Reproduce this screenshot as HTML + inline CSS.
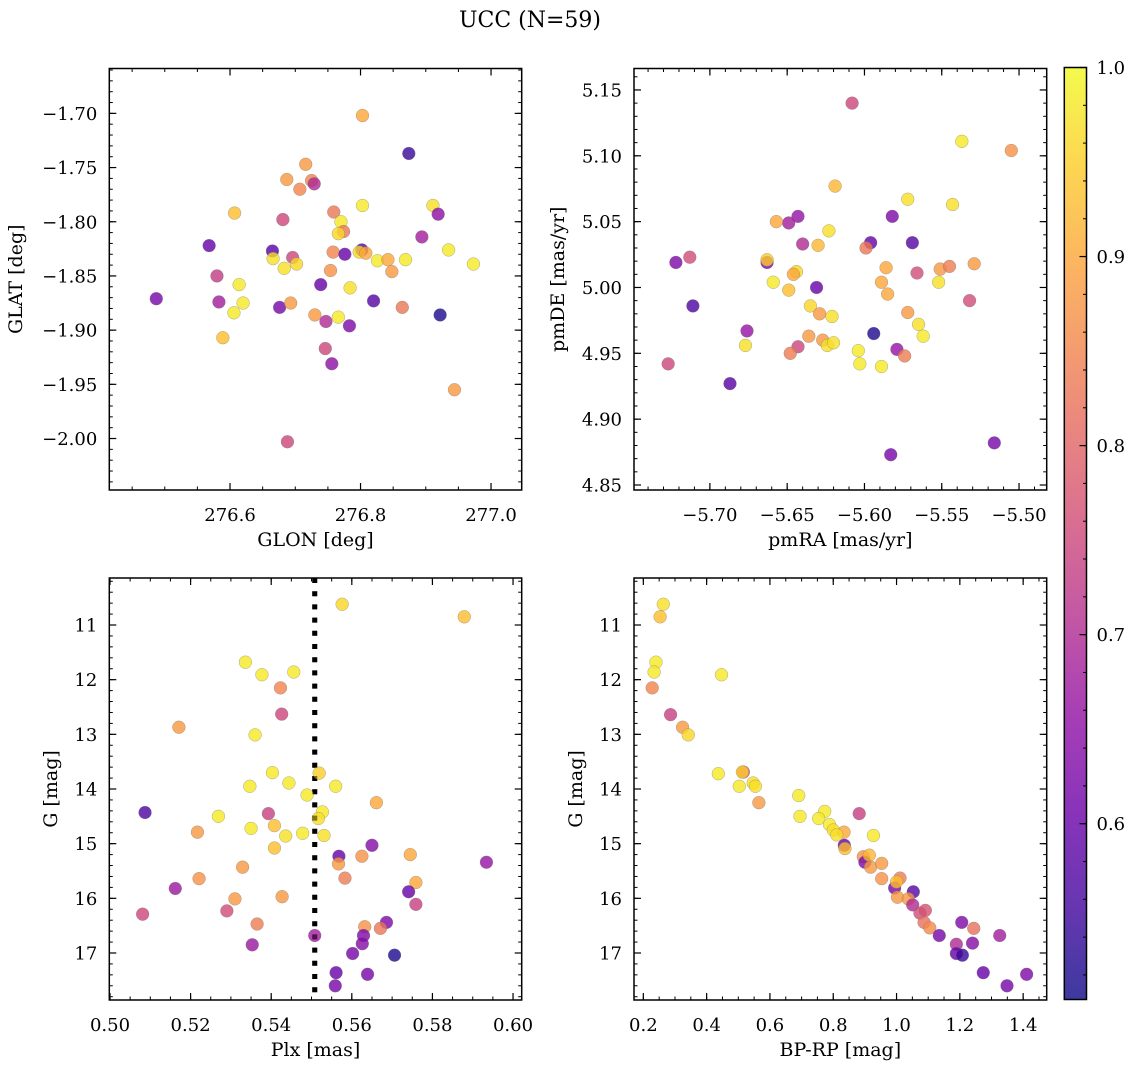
<!DOCTYPE html>
<html><head><meta charset="utf-8"><title>UCC (N=59)</title>
<style>
html,body{margin:0;padding:0;background:#fff;}
svg{display:block;font-family:"DejaVu Serif","Liberation Serif",serif;}
</style></head>
<body>
<svg id="fig" width="1136" height="1067" viewBox="0 0 1136 1067" xmlns="http://www.w3.org/2000/svg">
<defs>
<linearGradient id="plasma" x1="0" y1="1" x2="0" y2="0"></linearGradient>
</defs>
<text x="530" y="27" font-size="22" text-anchor="middle">UCC (N=59)</text>
</svg>
<script>
// ---- Panel 1: GLON vs GLAT ----
const glonVals = [276.803,276.874,276.716,276.687,276.725,276.729,276.707,276.803,276.911,276.919,276.607,276.681,276.759,276.770,276.774,276.766,276.894,276.568,276.665,276.666,276.696,276.702,276.683,276.758,276.776,276.802,276.798,276.808,276.826,276.842,276.869,276.935,276.973,276.848,276.754,276.580,276.614,276.739,276.784,276.487,276.583,276.620,276.676,276.693,276.820,276.864,276.606,276.730,276.747,276.766,276.783,276.922,276.589,276.746,276.756,276.944,276.688];
const glatVals = [-1.702,-1.737,-1.747,-1.761,-1.762,-1.765,-1.770,-1.785,-1.785,-1.793,-1.792,-1.798,-1.791,-1.800,-1.809,-1.811,-1.814,-1.822,-1.827,-1.834,-1.833,-1.839,-1.843,-1.828,-1.830,-1.826,-1.828,-1.829,-1.836,-1.835,-1.835,-1.826,-1.839,-1.846,-1.845,-1.850,-1.858,-1.858,-1.861,-1.871,-1.874,-1.875,-1.879,-1.875,-1.873,-1.879,-1.884,-1.886,-1.892,-1.888,-1.896,-1.886,-1.907,-1.917,-1.931,-1.955,-2.003];
const probP1 = [0.90,0.55,0.88,0.88,0.85,0.70,0.85,0.98,0.97,0.65,0.93,0.75,0.83,0.98,0.83,0.96,0.68,0.60,0.58,0.97,0.75,0.96,0.97,0.85,0.60,0.58,0.96,0.90,0.98,0.90,0.98,0.98,0.98,0.88,0.87,0.73,0.98,0.60,0.97,0.62,0.68,0.98,0.62,0.88,0.58,0.83,0.98,0.88,0.70,0.98,0.63,0.52,0.93,0.75,0.65,0.88,0.75];
const glonTicks = [276.6,276.8,277.0];
const glatTicks = [-1.70,-1.75,-1.80,-1.85,-1.90,-1.95,-2.00];

// ---- Panel 2: pmRA vs pmDE ----
const pmraVals = [-5.608,-5.537,-5.505,-5.619,-5.572,-5.543,-5.643,-5.649,-5.657,-5.582,-5.623,-5.640,-5.630,-5.596,-5.569,-5.599,-5.713,-5.722,-5.663,-5.663,-5.644,-5.646,-5.586,-5.551,-5.545,-5.529,-5.566,-5.659,-5.631,-5.589,-5.649,-5.552,-5.585,-5.711,-5.635,-5.629,-5.621,-5.532,-5.572,-5.565,-5.562,-5.676,-5.594,-5.677,-5.636,-5.627,-5.624,-5.620,-5.643,-5.648,-5.604,-5.579,-5.574,-5.603,-5.589,-5.727,-5.687,-5.516,-5.583];
const pmdeVals = [5.140,5.111,5.104,5.077,5.067,5.063,5.054,5.049,5.050,5.054,5.043,5.033,5.032,5.034,5.034,5.030,5.023,5.019,5.019,5.021,5.012,5.010,5.015,5.014,5.016,5.018,5.011,5.004,5.000,5.004,4.998,5.004,4.995,4.986,4.986,4.980,4.978,4.990,4.981,4.972,4.963,4.967,4.965,4.956,4.963,4.960,4.956,4.958,4.955,4.950,4.952,4.953,4.948,4.942,4.940,4.942,4.927,4.882,4.873];
const probP2 = [0.75,0.98,0.87,0.92,0.97,0.97,0.66,0.68,0.90,0.63,0.97,0.70,0.92,0.60,0.58,0.83,0.76,0.63,0.62,0.95,0.96,0.90,0.90,0.88,0.84,0.88,0.76,0.98,0.60,0.90,0.93,0.97,0.90,0.57,0.96,0.88,0.97,0.76,0.88,0.97,0.98,0.66,0.52,0.97,0.88,0.88,0.97,0.97,0.75,0.84,0.98,0.66,0.84,0.98,0.98,0.75,0.58,0.62,0.62];
const pmraTicks = [-5.70,-5.65,-5.60,-5.55,-5.50];
const pmdeTicks = [5.15,5.10,5.05,5.00,4.95,4.90,4.85];

// ---- Panel 3: Plx vs G ----
const plxVals = [0.5576,0.5879,0.5336,0.5377,0.5456,0.5423,0.5426,0.5171,0.5360,0.5403,0.5519,0.5444,0.5347,0.5560,0.5489,0.5661,0.5087,0.5393,0.5269,0.5527,0.5517,0.5217,0.5350,0.5408,0.5436,0.5478,0.5531,0.5408,0.5650,0.5568,0.5567,0.5625,0.5745,0.5934,0.5329,0.5221,0.5583,0.5162,0.5759,0.5741,0.5310,0.5427,0.5759,0.5081,0.5290,0.5365,0.5686,0.5632,0.5671,0.5629,0.5508,0.5353,0.5626,0.5602,0.5706,0.5561,0.5639,0.5559];
const gP3Vals = [10.62,10.85,11.68,11.91,11.86,12.15,12.63,12.87,13.01,13.70,13.71,13.89,13.95,13.95,14.11,14.25,14.43,14.45,14.50,14.42,14.54,14.79,14.72,14.67,14.86,14.81,14.85,15.08,15.03,15.23,15.37,15.23,15.20,15.34,15.43,15.64,15.63,15.82,15.71,15.88,16.01,15.97,16.11,16.29,16.23,16.47,16.44,16.52,16.55,16.68,16.68,16.85,16.83,17.01,17.04,17.36,17.39,17.60];
const probP3 = [0.96,0.93,0.98,0.98,0.98,0.85,0.75,0.88,0.98,0.98,0.95,0.98,0.98,0.98,0.98,0.90,0.57,0.74,0.98,0.98,0.97,0.88,0.98,0.93,0.97,0.98,0.97,0.93,0.64,0.60,0.88,0.87,0.90,0.66,0.88,0.87,0.84,0.67,0.90,0.60,0.88,0.88,0.74,0.75,0.76,0.84,0.63,0.87,0.83,0.63,0.68,0.67,0.64,0.62,0.52,0.60,0.62,0.62];
const plxCut = [0.5508];
const plxTicks = [0.50,0.52,0.54,0.56,0.58,0.60];
const gTicks = [11,12,13,14,15,16,17];

// ---- Panel 4: BP-RP vs G ----
const bprpVals = [0.263,0.253,0.240,0.234,0.228,0.447,0.286,0.324,0.342,0.437,0.516,0.513,0.503,0.547,0.554,0.565,0.691,0.695,0.773,0.754,0.788,0.800,0.834,0.811,0.882,0.927,0.835,0.837,0.895,0.900,0.914,0.918,0.953,0.953,1.011,0.994,1.000,1.003,1.053,1.037,1.051,1.074,1.091,1.087,1.105,1.135,1.206,1.244,1.326,1.189,1.240,1.189,1.208,1.274,1.411,1.349];
const gP4Vals = [10.62,10.85,11.68,11.86,12.15,11.91,12.64,12.87,13.01,13.72,13.69,13.69,13.95,13.89,13.95,14.25,14.12,14.50,14.41,14.54,14.65,14.75,14.79,14.84,14.45,14.85,15.03,15.09,15.24,15.34,15.21,15.43,15.36,15.64,15.63,15.81,15.70,15.98,15.88,16.01,16.12,16.27,16.22,16.44,16.54,16.68,16.44,16.55,16.68,16.84,16.82,17.01,17.04,17.36,17.39,17.60];
const probP4 = [0.97,0.93,0.98,0.98,0.85,0.98,0.74,0.88,0.96,0.98,0.75,0.95,0.98,0.97,0.97,0.88,0.98,0.98,0.98,0.98,0.98,0.97,0.90,0.97,0.74,0.98,0.60,0.93,0.87,0.63,0.92,0.88,0.88,0.87,0.84,0.62,0.93,0.88,0.58,0.88,0.70,0.76,0.77,0.82,0.86,0.62,0.63,0.82,0.68,0.70,0.64,0.60,0.55,0.60,0.63,0.62];
const bprpTicks = [0.2,0.4,0.6,0.8,1.0,1.2,1.4];

// ---- Colorbar ----
const cbTicks = [0.6,0.7,0.8,0.9,1.0];
const cbRange = [0.507,1.0];

const NS = "http://www.w3.org/2000/svg";
const svg = document.getElementById('fig');
function mk(tag, attrs, parent){
  const e = document.createElementNS(NS, tag);
  for (const k in attrs) e.setAttribute(k, attrs[k]);
  (parent||svg).appendChild(e);
  return e;
}
const plasmaStops = [[0,13,8,135],[0.1,65,4,157],[0.2,106,0,168],[0.3,143,13,164],[0.4,177,42,144],[0.5,204,71,120],[0.6,225,100,98],[0.7,242,132,75],[0.8,252,166,54],[0.9,252,206,37],[1.0,240,249,33]];
function plasma(t){
  t = Math.max(0, Math.min(1, t));
  for (let i=1;i<plasmaStops.length;i++){
    const a=plasmaStops[i-1], b=plasmaStops[i];
    if (t<=b[0]){
      const f=(t-a[0])/(b[0]-a[0]);
      return `rgb(${Math.round(a[1]+f*(b[1]-a[1]))},${Math.round(a[2]+f*(b[2]-a[2]))},${Math.round(a[3]+f*(b[3]-a[3]))})`;
    }
  }
  return 'rgb(240,249,33)';
}
function colorOf(p){ return plasma((p-cbRange[0])/(cbRange[1]-cbRange[0])); }
function fmt(v, d){ const s=v.toFixed(d); return s.startsWith('-') ? '\u2212'+s.slice(1) : s; }

function panel(cfg){
  const g = mk('g', {});
  
  
  const L=cfg.box[0], T=cfg.box[1], R=cfg.box[2], B=cfg.box[3];
  const sx = v => L + (v-cfg.xr[0])/(cfg.xr[1]-cfg.xr[0])*(R-L);
  const sy = v => cfg.yinv ? T + (v-cfg.yr[0])/(cfg.yr[1]-cfg.yr[0])*(B-T) : B - (v-cfg.yr[0])/(cfg.yr[1]-cfg.yr[0])*(B-T);
  const cp = mk('clipPath', {id:'clip-'+cfg.name}, g);
  mk('rect', {x:L, y:T, width:R-L, height:B-T}, cp);
  const pts = mk('g', {'clip-path':'url(#clip-'+cfg.name+')'}, g);
  
  
  if (cfg.vline){
    const vl = mk('line', {x1:sx(cfg.vline[0]), x2:sx(cfg.vline[0]), y1:T, y2:B, stroke:'#000', 'stroke-width':5, 'stroke-dasharray':'5 8.2'}, pts);
    
    
  }
  for (let i=0;i<cfg.xs.length;i++){
    const c = mk('circle', {cx:sx(cfg.xs[i]), cy:sy(cfg.ys[i]), r:6.4, fill:colorOf(cfg.ps[i]), 'fill-opacity':0.8, stroke:'#777', 'stroke-opacity':0.6, 'stroke-width':0.5}, pts);
    
    
  }
  if (cfg.vline){
    mk('line', {x1:sx(cfg.vline[0]), x2:sx(cfg.vline[0]), y1:T, y2:B, stroke:'#000', 'stroke-width':5, 'stroke-dasharray':'5 8.2', 'stroke-opacity':0.35}, pts);
  }
  // minor ticks
  const minor = (lo, hi, step, fn) => { const s=Math.ceil(lo/step-1e-6); for(let k=s; k*step<=hi+1e-9; k++) fn(k*step); };
  minor(Math.min(...cfg.xr), Math.max(...cfg.xr), cfg.xminor, v => {
    const x=sx(v);
    mk('line',{x1:x,x2:x,y1:B,y2:B-3.5,stroke:'#000','stroke-width':1},g);
    mk('line',{x1:x,x2:x,y1:T,y2:T+3.5,stroke:'#000','stroke-width':1},g);
  });
  minor(Math.min(...cfg.yr), Math.max(...cfg.yr), cfg.yminor, v => {
    const y=sy(v);
    mk('line',{x1:L,x2:L+3.5,y1:y,y2:y,stroke:'#000','stroke-width':1},g);
    mk('line',{x1:R,x2:R-3.5,y1:y,y2:y,stroke:'#000','stroke-width':1},g);
  });
  cfg.xticks.forEach(v => {
    const x=sx(v);
    mk('line',{x1:x,x2:x,y1:B,y2:B-7,stroke:'#000','stroke-width':1.2},g);
    mk('line',{x1:x,x2:x,y1:T,y2:T+7,stroke:'#000','stroke-width':1.2},g);
    const t = mk('text',{x:x,y:B+31,'font-size':18,'text-anchor':'middle'},g);
    t.textContent = fmt(v, cfg.xdec);
    
    
  });
  cfg.yticks.forEach(v => {
    const y=sy(v);
    mk('line',{x1:L,x2:L+7,y1:y,y2:y,stroke:'#000','stroke-width':1.2},g);
    mk('line',{x1:R,x2:R-7,y1:y,y2:y,stroke:'#000','stroke-width':1.2},g);
    const t = mk('text',{x:L-12,y:y+6.5,'font-size':18,'text-anchor':'end'},g);
    t.textContent = fmt(v, cfg.ydec);
    
    
  });
  const fr = mk('rect',{x:L,y:T,width:R-L,height:B-T,fill:'none',stroke:'#000','stroke-width':1.5},g);
  
  
  const xl = mk('text',{x:(L+R)/2,y:B+56,'font-size':19,'text-anchor':'middle'},g);
  xl.textContent = cfg.xlabel;
  
  
  const yc=(T+B)/2;
  const yl = mk('text',{x:cfg.ylx,y:yc,'font-size':19,'text-anchor':'middle',transform:`rotate(-90 ${cfg.ylx} ${yc})`},g);
  yl.textContent = cfg.ylabel;
  
  
}

panel({name:'glon-glat-panel', box:[109.3,68.5,521.7,490], xs:glonVals, ys:glatVals, ps:probP1,
  xr:[276.415,277.047], yr:[-1.6586,-2.0475], yinv:true, xticks:glonTicks, yticks:glatTicks, xminor:0.05, yminor:0.01, xdec:1, ydec:2,
  xlabel:'GLON [deg]', ylabel:'GLAT [deg]', ylx:22});
panel({name:'pm-panel', box:[634,68.5,1046.7,490], xs:pmraVals, ys:pmdeVals, ps:probP2,
  xr:[-5.7491,-5.4821], yr:[4.8462,5.1663], xticks:pmraTicks, yticks:pmdeTicks, xminor:0.01, yminor:0.01, xdec:2, ydec:2,
  xlabel:'pmRA [mas/yr]', ylabel:'pmDE [mas/yr]', ylx:564});
panel({name:'plx-g-panel', box:[109.3,578,521.7,1000], xs:plxVals, ys:gP3Vals, ps:probP3, vline:plxCut,
  xr:[0.49983,0.60215], yr:[10.14,17.86], yinv:true, xticks:plxTicks, yticks:gTicks, xminor:0.005, yminor:0.2, xdec:2, ydec:0,
  xlabel:'Plx [mas]', ylabel:'G [mag]', ylx:57});
panel({name:'cmd-panel', box:[634,578,1046.7,1000], xs:bprpVals, ys:gP4Vals, ps:probP4,
  xr:[0.1705,1.4744], yr:[10.14,17.86], yinv:true, xticks:bprpTicks, yticks:gTicks, xminor:0.05, yminor:0.2, xdec:1, ydec:0,
  xlabel:'BP-RP [mag]', ylabel:'G [mag]', ylx:582});

// colorbar
const grad = document.getElementById('plasma');
for (let i=0;i<=20;i++){
  const st = document.createElementNS(NS,'stop');
  st.setAttribute('offset', (i/20));
  st.setAttribute('stop-color', plasma(i/20));
  grad.appendChild(st);
}
const cbL=1064.3, cbR=1086.5, cbT=67.5, cbB=999.5;
const cbg = mk('g',{});


mk('rect',{x:cbL,y:cbT,width:cbR-cbL,height:cbB-cbT,fill:'url(#plasma)','fill-opacity':0.8},cbg);
const cy = v => cbB - (v-cbRange[0])/(cbRange[1]-cbRange[0])*(cbB-cbT);
for (let k=26;k<=50;k++){
  const v=k*0.02; if (v<cbRange[0]) continue; const y=cy(v);
  mk('line',{x1:cbR,x2:cbR-3.5,y1:y,y2:y,stroke:'#000','stroke-width':1},cbg);
}
cbTicks.forEach(v=>{
  const y=cy(v);
  mk('line',{x1:cbR,x2:cbR-7,y1:y,y2:y,stroke:'#000','stroke-width':1.2},cbg);
  const t=mk('text',{x:cbR+10,y:y+6.5,'font-size':18},cbg);
  t.textContent=v.toFixed(1);
  
  
});
mk('rect',{x:cbL,y:cbT,width:cbR-cbL,height:cbB-cbT,fill:'none',stroke:'#000','stroke-width':1.5},cbg);
</script>
</body></html>
